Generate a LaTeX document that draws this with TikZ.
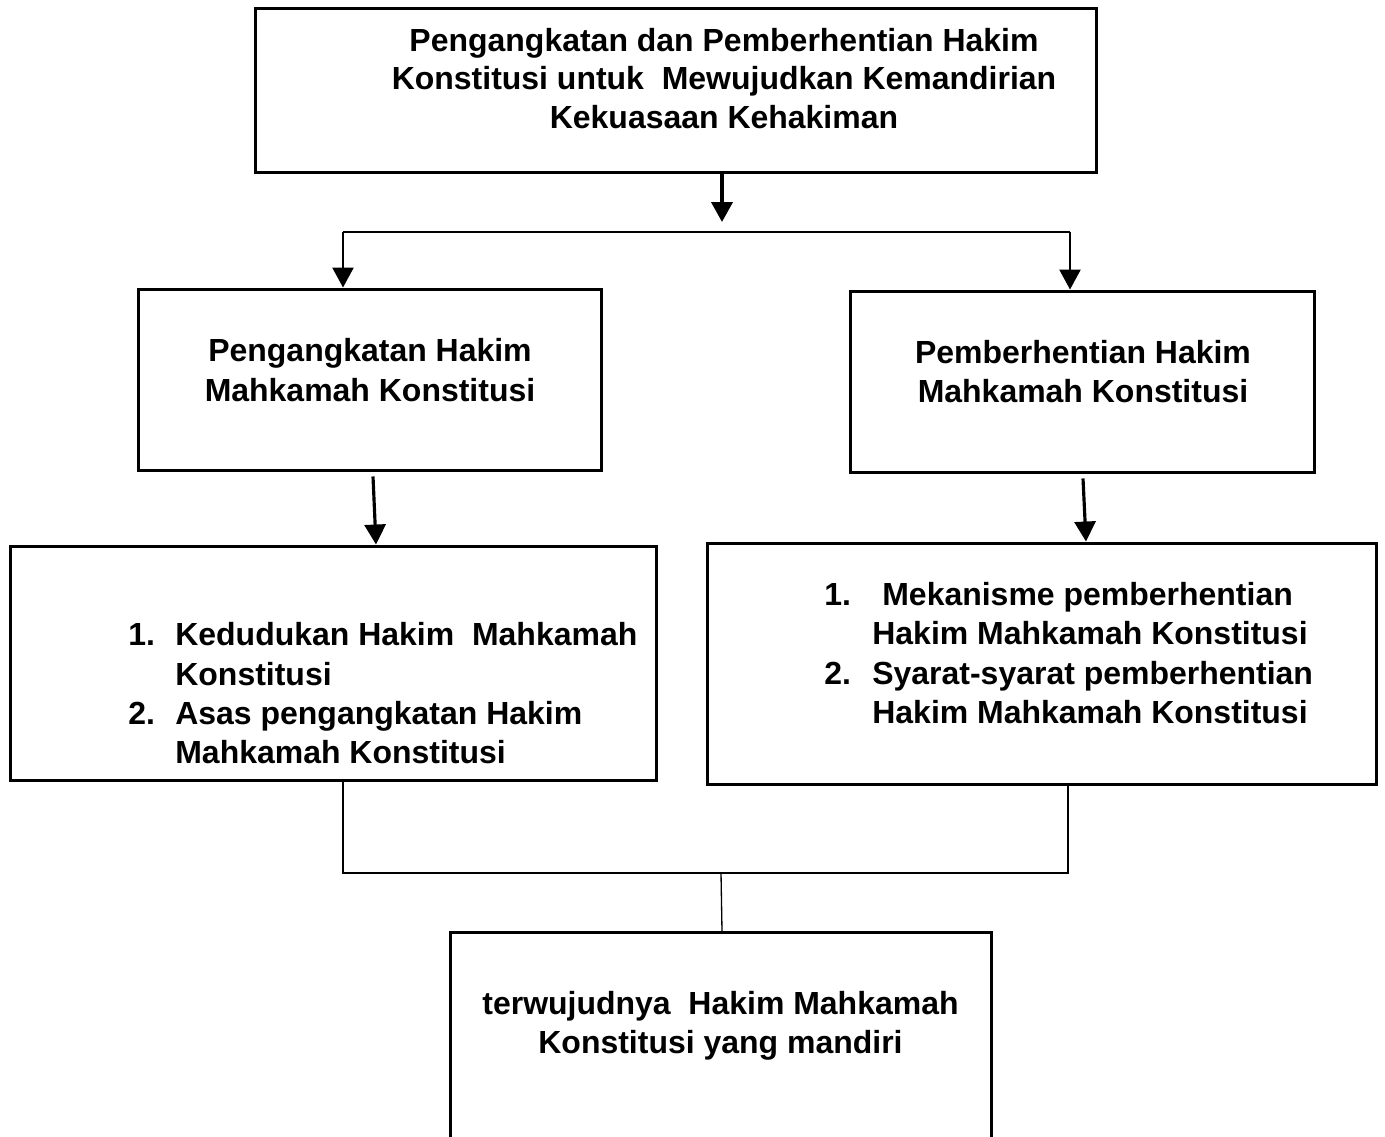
\documentclass[tikz,border=0pt]{standalone}
\usepackage{fontspec}
\setmainfont{Liberation Sans}
\usetikzlibrary{calc,arrows.meta}

\begin{document}
\begin{tikzpicture}[x=0.02cm, y=-0.02cm,
		box/.style={draw, line width=1.7pt, inner sep=0pt},
		txt/.style={font=\bfseries\fontsize{18.2}{22.4}\selectfont, inner sep=0pt},
		link/.style={line width=0.75pt},
		arr/.style={line width=1.8pt, -{Triangle[length=0.4cm, width=0.42cm]}}]
			%%%%% START %%%%%
			\useasboundingbox (0, 0) rectangle (1385, 1136);
			\clip (0, 0) rectangle (1385, 1136);
			
			\node[box, minimum width=16.84cm, minimum height=3.3cm] (judul) at (676, 90.5) {};
			\node[txt, align=center, font=\bfseries\fontsize{18.2}{21.8}\selectfont] (judultxt) at (724, 78.5)
				{Pengangkatan dan Pemberhentian Hakim\\Konstitusi untuk~ Mewujudkan Kemandirian\\Kekuasaan Kehakiman};
			
			\node[box, minimum width=9.28cm, minimum height=3.64cm] (angkat) at (370, 380) {};
			\node[txt, align=center] (angkattxt) at (370, 370) {Pengangkatan Hakim\\Mahkamah Konstitusi};
			
			\node[box, minimum width=9.3cm, minimum height=3.64cm] (henti) at (1082.5, 382) {};
			\node[txt, align=center] (hentitxt) at (1083, 371.5) {Pemberhentian Hakim\\Mahkamah Konstitusi};
			
			\node[box, minimum width=12.94cm, minimum height=4.7cm] (angkatisi) at (333.5, 663.5) {};
			\node[txt, align=left, anchor=west] (angkatisitxt) at (128, 693.5)
				{\makebox[0.94cm][l]{1.}Kedudukan Hakim~ Mahkamah\\
				 \hspace*{0.94cm}Konstitusi\\
				 \makebox[0.94cm][l]{2.}Asas pengangkatan Hakim\\
				 \hspace*{0.94cm}Mahkamah Konstitusi};
			
			\node[box, minimum width=13.4cm, minimum height=4.84cm] (hentiisi) at (1042, 664) {};
			\node[txt, align=left, anchor=west] (hentiisitxt) at (824, 653)
				{\makebox[0.96cm][l]{1.}\hspace*{0.2cm}Mekanisme pemberhentian\\
				 \hspace*{0.96cm}Hakim Mahkamah Konstitusi\\
				 \makebox[0.96cm][l]{2.}Syarat-syarat pemberhentian\\
				 \hspace*{0.96cm}Hakim Mahkamah Konstitusi};
			
			\node[box, minimum width=10.84cm, minimum height=4.7cm] (mandiri) at (721, 1050) {};
			\node[txt, align=center] (mandiritxt) at (720.5, 1025.5) {terwujudnya~ Hakim Mahkamah\\Konstitusi yang mandiri};
			
			% cabang atas
			\coordinate (fork) at (722, 232);
			\coordinate (forkL) at (343, 232);
			\coordinate (forkR) at (1070, 232);
			\draw[arr, line width=2.2pt] (judul.south -| fork) -- ($(fork)+(0, -10)$);
			\draw[link] (forkL) -- (forkR);
			\draw[arr, line width=1.4pt] (forkL) -- (forkL |- angkat.north);
			\draw[arr, line width=1.4pt] (forkR) -- (forkR |- henti.north);
			
			\draw[arr] ($(angkat.south)+(3, 4)$) -- (376,0 |- angkatisi.north);
			\draw[arr] ($(henti.south)+(0.5, 4)$) -- (1086,0 |- hentiisi.north);
			
			% gabungan bawah
			\coordinate (joinL) at (343, 873);
			\coordinate (joinR) at (1068, 873);
			\coordinate (join) at (721, 873);
			\draw[link] (joinL |- angkatisi.south) -- (joinL) -- (joinR) -- (joinR |- hentiisi.south);
			\draw[link] (join) -- (722,0 |- mandiri.north);
			
			%%%%% END %%%%%
\end{tikzpicture}
\end{document}
